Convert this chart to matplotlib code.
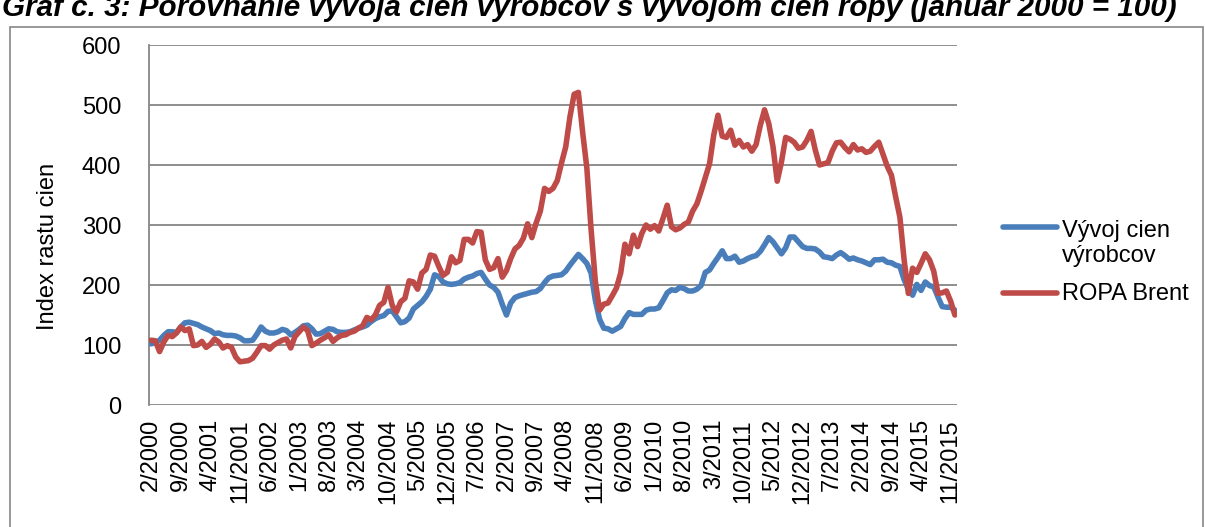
import numpy as np
import pandas as pd
import matplotlib
matplotlib.use("Agg")
from matplotlib import pyplot as plt
from matplotlib.lines import Line2D
from matplotlib.patches import Rectangle

plt.rcParams['font.family'] = ['Liberation Sans', 'DejaVu Sans']

# monthly categories 2/2000 .. 12/2015
months = pd.period_range('2000-02', '2015-12', freq='M')
month_labels = [f"{p.month}/{p.year}" for p in months]

# index of producer prices (Jan 2000 = 100)
vyrobcovia = [
    102, 104, 108, 116, 122, 122, 121, 130, 137, 138,
    136, 134, 130, 127, 124, 119, 120, 117, 116, 116,
    115, 112, 107, 107, 108, 118, 130, 123, 120, 120,
    122, 126, 124, 117, 121, 126, 132, 133, 127, 118,
    119, 123, 127, 126, 122, 121, 121, 122, 125, 128,
    130, 133, 139, 144, 147, 149, 156, 157, 147, 137,
    139, 145, 160, 166, 172, 181, 193, 217, 214, 205,
    202, 201, 202, 204, 210, 213, 215, 219, 221, 210,
    200, 196, 188, 168, 150, 170, 179, 182, 184, 186,
    188, 189, 194, 204, 212, 215, 216,
    217, 223, 233, 242, 251,
    244, 236, 220, 175, 143, 128, 127, 123,
    127, 131, 144, 154, 151, 151, 151, 158, 160, 160,
    162, 174, 187, 192, 191, 196, 194, 190, 190, 193,
    199, 221, 225, 236, 246, 257, 244, 244, 248, 238,
    240, 244, 247, 249, 256, 267, 279, 272, 262, 252,
    262, 280, 280, 272, 264, 261, 261, 260, 255, 247,
    246, 244, 250, 254, 249, 243, 245, 242, 240, 237,
    234, 242, 242, 243, 238, 237, 233, 231, 209, 193,
    183, 201, 191, 205, 199, 197, 180, 164, 163, 163, 158,
]

# index of Brent oil price (Jan 2000 = 100)
brent = [
    108, 107, 89, 105, 116, 114, 120, 130, 124, 127,
    99, 100, 106, 96, 101, 110, 105, 95, 99, 96,
    80, 72, 73, 74, 78, 88, 99, 99, 93, 100,
    104, 108, 110, 95, 114, 122, 130, 124, 99, 103,
    108, 112, 117, 106, 112, 116, 117, 121, 123, 128,
    132, 146, 142, 150, 166, 171, 196, 166, 155, 172,
    178, 207, 205, 193, 220, 226, 250, 248, 231, 216,
    221, 247, 237, 241, 276, 276, 270, 289, 288, 242,
    226, 229, 244, 213, 224, 244, 260, 266, 278, 302,
    279, 303, 323, 361, 356, 361, 374,
    403, 430, 480, 518, 521,
    455, 395, 293, 207, 158, 168, 170, 182,
    195, 220, 268, 252, 283, 264, 286, 300, 293, 299,
    290, 311, 333, 297, 292, 295, 301, 305, 323, 335,
    356, 379, 402, 450, 483, 448, 446, 458, 433, 441,
    430, 434, 423, 434, 466, 492, 469, 431, 373, 405,
    446, 443, 438, 428, 430, 441, 456, 425, 400, 402,
    404, 423, 437, 438, 429, 422, 434, 425, 427, 421,
    423, 431, 438, 418, 398, 383, 347, 313, 242, 186,
    228, 221, 236, 252, 242, 223, 186, 187, 190, 173, 150,
]

series_names = ['Vývoj cien\nvýrobcov', 'ROPA Brent']
y_ticks = [0, 100, 200, 300, 400, 500, 600]
title = 'Graf č. 3: Porovnanie vývoja cien výrobcov s vývojom cien ropy (január 2000 = 100)'

BLUE = '#4A7EBB'
RED = '#BE4B48'
GRID = '#868686'
FS = 17

W, H = 1206, 527
fig = plt.figure(figsize=(W / 100, H / 100), dpi=100)

# outer chart frame
fig.add_artist(Rectangle((10 / W, -0.01), (1203 - 10) / W, (H - 27) / H + 0.01,
                         transform=fig.transFigure, fill=False,
                         edgecolor=GRID, linewidth=1.2))

# title is cropped at the top edge, as in the source picture
fig.text(2 / W, 1 - 16 / H, title, ha='left', va='baseline', fontsize=21.3,
         fontweight='bold', fontstyle='italic')

ax = fig.add_axes([149 / W, 1 - 405 / H, (957 - 149) / W, 360 / H])
x = np.arange(len(months))
ax.plot(x, vyrobcovia, color=BLUE, linewidth=4, solid_capstyle='round',
        solid_joinstyle='round', zorder=3)
ax.plot(x, brent, color=RED, linewidth=4, solid_capstyle='round',
        solid_joinstyle='round', zorder=4)

ax.set_xlim(-0.5, len(months) - 0.5)
ax.set_ylim(0, 600)
ax.set_yticks(y_ticks)
ax.set_yticklabels([str(v) for v in y_ticks], fontsize=FS)
ax.set_xticks(x[::7])
ax.set_xticklabels(month_labels[::7], rotation=90, fontsize=FS)
ax.tick_params(axis='both', length=0)
ax.tick_params(axis='y', pad=20)
ax.tick_params(axis='x', pad=10)

ax.grid(axis='y', color=GRID, linewidth=1.3)
ax.set_axisbelow(True)
for s in ['top', 'right', 'bottom']:
    ax.spines[s].set_visible(False)
ax.spines['left'].set_color(GRID)
ax.spines['left'].set_linewidth(1.3)

ax.set_ylabel('Index rastu cien', fontsize=FS)
ax.yaxis.set_label_coords(-0.112, 0.44)

# legend drawn to match the original layout
for color, ly in [(BLUE, 227), (RED, 293)]:
    fig.add_artist(Line2D([1003 / W, 1057 / W], [1 - ly / H, 1 - ly / H],
                          transform=fig.transFigure, color=color,
                          linewidth=4, solid_capstyle='round'))
name_lines = series_names[0].split('\n') + [series_names[1]]
for txt, base in zip(name_lines, [237, 262, 300]):
    fig.text(1062 / W, 1 - base / H, txt, ha='left', va='baseline', fontsize=FS)

fig.savefig('out.png', dpi=100)
